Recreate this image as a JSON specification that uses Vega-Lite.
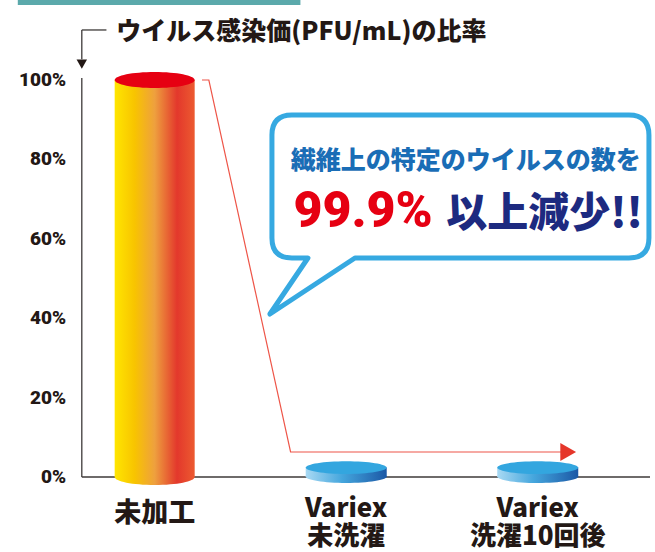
{
  "$schema": "https://vega.github.io/schema/vega-lite/v6.json",
  "width": 655,
  "height": 552,
  "padding": 0,
  "autosize": {"type": "none"},
  "background": "white",
  "config": {"view": {"stroke": null}},
  "datasets": {
    "bars": [
      {"x": 0, "y": 100, "cat": "未加工"},
      {"x": 1, "y": 0.1, "cat": "Variex 未洗濯", "lines": ["Variex", "未洗濯"]},
      {"x": 2, "y": 0.1, "cat": "Variex 洗濯10回後", "lines": ["Variex", "洗濯10回後"]}
    ],
    "band": [{"x": -0.7147, "x2": 0.7609, "y": 120.2, "y2": 118.9}],
    "rules": [
      {"x": -0.3805, "x2": -0.3805, "y": 0, "y2": 100.5},
      {"x": -0.3805, "x2": 2.5861, "y": 0, "y2": 0},
      {"x": -0.3805, "x2": -0.2519, "y": 112.6, "y2": 112.6},
      {"x": -0.3805, "x2": -0.3805, "y": 112.6, "y2": 105.2}
    ],
    "leaderhead": [{"x": -0.3805, "y": 104.0}],
    "title": [
      {"role": "title", "x": -0.2005, "y": 110.1, "text": "ウイルス感染価(PFU/mL)の比率"},
      {"role": "tick", "x": -0.4628, "y": 0, "text": "0%"},
      {"role": "tick", "x": -0.4628, "y": 20, "text": "20%"},
      {"role": "tick", "x": -0.4628, "y": 40, "text": "40%"},
      {"role": "tick", "x": -0.4628, "y": 60, "text": "60%"},
      {"role": "tick", "x": -0.4628, "y": 80, "text": "80%"},
      {"role": "tick", "x": -0.4628, "y": 100, "text": "100%"}
    ],
    "redline": [
      {"x": 0.2468, "y": 100, "o": 0},
      {"x": 0.2828, "y": 100, "o": 1},
      {"x": 0.7095, "y": 6.3, "o": 2},
      {"x": 2.1234, "y": 6.3, "o": 3}
    ],
    "redhead": [{"x": 2.159, "y": 6.3}],
    "bubble": [{"x": 1.5938, "y": 73.3}],
    "msg1": [{"x": 1.6247, "y": 77.7, "text": "繊維上の特定のウイルスの数を"}],
    "msg2": [{"x": 0.7249, "y": 63.0, "text": "99.9%"}],
    "msg3": [{"x": 1.5219, "y": 63.0, "text": "以上減少!!"}]
  },
  "encoding": {
    "x": {"field": "x", "type": "quantitative", "scale": {"domain": [-0.7815, 2.5861], "nice": false, "zero": false}, "axis": null},
    "y": {"field": "y", "type": "quantitative", "scale": {"domain": [-18.89, 120.15], "nice": false, "zero": false}, "axis": null}
  },
  "layer": [
    {"data": {"name": "band"}, "mark": {"type": "rect", "fill": "#5ba9ab"},
     "encoding": {"x2": {"field": "x2"}, "y2": {"field": "y2"}}},
    {"data": {"name": "rules"}, "mark": {"type": "rule", "color": "#3e3a39", "strokeWidth": 1.3},
     "encoding": {"x2": {"field": "x2"}, "y2": {"field": "y2"}}},
    {"data": {"name": "leaderhead"}, "mark": {"type": "point", "shape": "triangle-down", "size": 110, "filled": true, "fill": "#231815", "strokeOpacity": 0, "opacity": 1}},
    {"data": {"name": "title"}, "transform": [{"filter": "datum.role == 'title'"}], "mark": {"type": "text", "font": "Noto Sans CJK JP", "fontWeight": 900, "fontSize": 25, "align": "left", "baseline": "alphabetic", "color": "#231815"},
     "encoding": {"text": {"field": "text"}}},
    {"data": {"name": "title"}, "transform": [{"filter": "datum.role == 'tick'"}], "mark": {"type": "text", "font": "Roboto", "fontWeight": 900, "fontSize": 19, "align": "right", "baseline": "middle", "color": "#231815"},
     "encoding": {"text": {"field": "text"}}},
    {"data": {"name": "redline"}, "mark": {"type": "line", "color": "#ee5548", "strokeWidth": 1.2},
     "encoding": {"order": {"field": "o"}}},
    {"data": {"name": "redhead"}, "mark": {"type": "point", "shape": "triangle-right", "size": 330, "filled": true, "fill": "#e5362a", "strokeOpacity": 0, "opacity": 1}},
    {"data": {"name": "bubble"}, "mark": {"type": "point", "shape": "M-0.8842,-0.3737L0.8895,-0.3737Q0.9947,-0.3737,0.9947,-0.2684L0.9947,0.2737Q0.9947,0.3789,0.8895,0.3789L-0.5526,0.3789L-1,0.6737L-0.8,0.3789L-0.8842,0.3789Q-0.9895,0.3789,-0.9895,0.2737L-0.9895,-0.2684Q-0.9895,-0.3737,-0.8842,-0.3737Z", "size": 144400, "filled": true, "fill": "white", "stroke": "#36a9e1", "strokeWidth": 5, "strokeJoin": "round", "opacity": 1}},
    {"data": {"name": "msg1"}, "mark": {"type": "text", "font": "Noto Sans CJK JP", "fontWeight": 900, "fontSize": 25, "align": "center", "baseline": "alphabetic", "color": "#1a6db6"},
     "encoding": {"text": {"field": "text"}}},
    {"data": {"name": "msg2"}, "mark": {"type": "text", "font": "Roboto", "fontWeight": 900, "fontSize": 50, "align": "left", "baseline": "alphabetic", "color": "#e60012"},
     "encoding": {"text": {"field": "text"}}},
    {"data": {"name": "msg3"}, "mark": {"type": "text", "font": "Noto Sans CJK JP", "fontWeight": 900, "fontSize": 41, "align": "left", "baseline": "alphabetic", "color": "#1d2a80"},
     "encoding": {"text": {"field": "text"}}},
    {"data": {"name": "bars"}, "transform": [{"filter": "datum.x == 0"}],
     "mark": {"type": "bar", "orient": "vertical", "width": 80, "fill": {"gradient": "linear", "x1": 0, "y1": 0, "x2": 1, "y2": 0, "stops": [{"offset": 0, "color": "#ffe600"}, {"offset": 0.25, "color": "#f8c400"}, {"offset": 0.5, "color": "#eea03e"}, {"offset": 0.78, "color": "#e3382c"}, {"offset": 1, "color": "#ec5a30"}]}},
     "encoding": {"y2": {"datum": 0}}},
    {"data": {"name": "bars"}, "transform": [{"filter": "datum.x == 0"}],
     "mark": {"type": "point", "shape": "M-1,0C-1,-0.1105,-0.5523,-0.2,0,-0.2C0.5523,-0.2,1,-0.1105,1,0C1,0.1105,0.5523,0.2,0,0.2C-0.5523,0.2,-1,0.1105,-1,0Z", "size": 6400, "filled": true, "strokeOpacity": 0, "opacity": 1, "fill": {"gradient": "linear", "x1": 0, "y1": 0, "x2": 1, "y2": 0, "stops": [{"offset": 0, "color": "#ffe600"}, {"offset": 0.25, "color": "#f8c400"}, {"offset": 0.5, "color": "#eea03e"}, {"offset": 0.78, "color": "#e3382c"}, {"offset": 1, "color": "#ec5a30"}]}},
     "encoding": {"y": {"datum": 0, "type": "quantitative"}}},
    {"data": {"name": "bars"}, "transform": [{"filter": "datum.x == 0"}],
     "mark": {"type": "point", "shape": "M-1,0C-1,-0.1105,-0.5523,-0.2,0,-0.2C0.5523,-0.2,1,-0.1105,1,0C1,0.1105,0.5523,0.2,0,0.2C-0.5523,0.2,-1,0.1105,-1,0Z", "size": 6400, "filled": true, "strokeOpacity": 0, "opacity": 1, "fill": "#e60012"}},
    {"data": {"name": "bars"}, "transform": [{"filter": "datum.x > 0"}],
     "mark": {"type": "point", "shape": "M-1,0C-1,-0.0884,-0.5523,-0.16,0,-0.16C0.5523,-0.16,1,-0.0884,1,0C1,0.0884,0.5523,0.16,0,0.16C-0.5523,0.16,-1,0.0884,-1,0Z", "size": 6561, "filled": true, "strokeOpacity": 0, "opacity": 1, "fill": {"gradient": "linear", "x1": 0, "y1": 0, "x2": 1, "y2": 0, "stops": [{"offset": 0, "color": "#a8d9f3"}, {"offset": 0.45, "color": "#45a6dd"}, {"offset": 1, "color": "#1b58a6"}]}}},
    {"data": {"name": "bars"}, "transform": [{"filter": "datum.x > 0"}],
     "mark": {"type": "bar", "orient": "vertical", "width": 81, "yOffset": -9, "fill": {"gradient": "linear", "x1": 0, "y1": 0, "x2": 1, "y2": 0, "stops": [{"offset": 0, "color": "#a8d9f3"}, {"offset": 0.45, "color": "#45a6dd"}, {"offset": 1, "color": "#1b58a6"}]}},
     "encoding": {"y2": {"datum": 0}}},
    {"data": {"name": "bars"}, "transform": [{"filter": "datum.x > 0"}],
     "mark": {"type": "point", "yOffset": -9, "shape": "M-1,0C-1,-0.0884,-0.5523,-0.16,0,-0.16C0.5523,-0.16,1,-0.0884,1,0C1,0.0884,0.5523,0.16,0,0.16C-0.5523,0.16,-1,0.0884,-1,0Z", "size": 6561, "filled": true, "strokeOpacity": 0, "opacity": 1, "fill": "#33a6df"}},
    {"data": {"name": "bars"}, "transform": [{"filter": "datum.x == 0"}],
     "mark": {"type": "text", "font": "Noto Sans CJK JP", "fontWeight": 900, "fontSize": 27, "align": "center", "baseline": "alphabetic", "color": "#231815"},
     "encoding": {"y": {"datum": -11.3, "type": "quantitative"}, "text": {"field": "cat"}}},
    {"data": {"name": "bars"}, "transform": [{"filter": "datum.x > 0"}],
     "mark": {"type": "text", "font": "Noto Sans CJK JP", "fontWeight": 900, "fontSize": 26, "lineHeight": 28, "align": "center", "baseline": "top", "color": "#231815"},
     "encoding": {"y": {"datum": -4.7, "type": "quantitative"}, "text": {"field": "lines"}}}
  ]
}
